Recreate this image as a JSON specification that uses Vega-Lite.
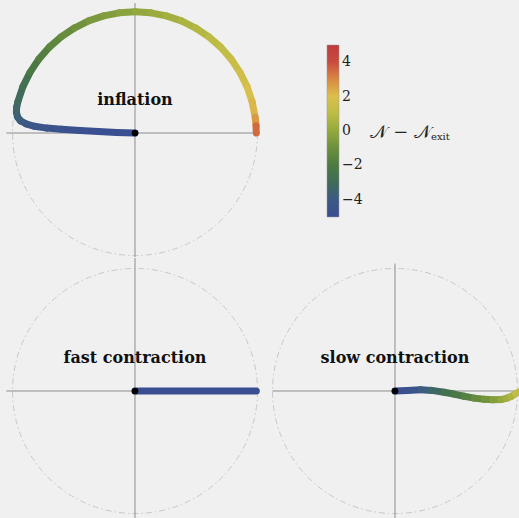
{
  "$schema": "https://vega.github.io/schema/vega-lite/v6.json",
  "background": "#f0f0f0",
  "padding": 0,
  "spacing": 0,
  "config": {
    "view": {"stroke": null},
    "axis": {"disable": true},
    "concat": {"spacing": 0},
    "text": {"font": "DejaVu Serif"}
  },
  "datasets": {
    "inflation": [
      {"i": 0, "x": 0.0, "y": 0.0, "n": -5.0},
      {"i": 1, "x": -0.15, "y": 0.005, "n": -4.95},
      {"i": 2, "x": -0.3, "y": 0.012, "n": -4.85},
      {"i": 3, "x": -0.45, "y": 0.02, "n": -4.75},
      {"i": 4, "x": -0.6, "y": 0.03, "n": -4.6},
      {"i": 5, "x": -0.72, "y": 0.04, "n": -4.45},
      {"i": 6, "x": -0.82, "y": 0.055, "n": -4.3},
      {"i": 7, "x": -0.89, "y": 0.075, "n": -4.1},
      {"i": 8, "x": -0.935, "y": 0.1, "n": -3.9},
      {"i": 9, "x": -0.958, "y": 0.13, "n": -3.7},
      {"i": 10, "x": -0.968, "y": 0.17, "n": -3.45},
      {"i": 11, "x": -0.966, "y": 0.21, "n": -3.25},
      {"i": 12, "x": -0.956, "y": 0.256, "n": -3.05},
      {"i": 13, "x": -0.915, "y": 0.379, "n": -2.6},
      {"i": 14, "x": -0.857, "y": 0.495, "n": -2.1},
      {"i": 15, "x": -0.785, "y": 0.603, "n": -1.75},
      {"i": 16, "x": -0.7, "y": 0.7, "n": -1.45},
      {"i": 17, "x": -0.603, "y": 0.785, "n": -1.15},
      {"i": 18, "x": -0.495, "y": 0.857, "n": -0.9},
      {"i": 19, "x": -0.379, "y": 0.915, "n": -0.65},
      {"i": 20, "x": -0.256, "y": 0.956, "n": -0.45},
      {"i": 21, "x": -0.129, "y": 0.981, "n": -0.22},
      {"i": 22, "x": 0.0, "y": 0.99, "n": 0.0},
      {"i": 23, "x": 0.129, "y": 0.981, "n": 0.2},
      {"i": 24, "x": 0.256, "y": 0.956, "n": 0.4},
      {"i": 25, "x": 0.379, "y": 0.915, "n": 0.6},
      {"i": 26, "x": 0.495, "y": 0.857, "n": 0.8},
      {"i": 27, "x": 0.603, "y": 0.785, "n": 1.0},
      {"i": 28, "x": 0.7, "y": 0.7, "n": 1.2},
      {"i": 29, "x": 0.785, "y": 0.603, "n": 1.4},
      {"i": 30, "x": 0.857, "y": 0.495, "n": 1.6},
      {"i": 31, "x": 0.915, "y": 0.379, "n": 1.85},
      {"i": 32, "x": 0.956, "y": 0.256, "n": 2.15},
      {"i": 33, "x": 0.981, "y": 0.129, "n": 2.7},
      {"i": 34, "x": 0.988, "y": 0.06, "n": 3.5},
      {"i": 35, "x": 0.99, "y": 0.0, "n": 4.6}
    ],
    "fast": [
      {"i": 0, "x": 0.0, "y": 0.0, "n": -5.0},
      {"i": 1, "x": 0.99, "y": 0.0, "n": -4.9}
    ],
    "slow": [
      {"i": 0, "x": 0.0, "y": 0.0, "n": -5.0},
      {"i": 1, "x": 0.1, "y": 0.005, "n": -4.6},
      {"i": 2, "x": 0.209, "y": 0.01, "n": -3.9},
      {"i": 3, "x": 0.3, "y": 0.005, "n": -3.2},
      {"i": 4, "x": 0.4, "y": -0.01, "n": -2.6},
      {"i": 5, "x": 0.48, "y": -0.025, "n": -2.15},
      {"i": 6, "x": 0.564, "y": -0.043, "n": -1.65},
      {"i": 7, "x": 0.646, "y": -0.058, "n": -1.2},
      {"i": 8, "x": 0.728, "y": -0.068, "n": -0.8},
      {"i": 9, "x": 0.8, "y": -0.072, "n": -0.35},
      {"i": 10, "x": 0.865, "y": -0.07, "n": 0.05},
      {"i": 11, "x": 0.91, "y": -0.06, "n": 0.35},
      {"i": 12, "x": 0.947, "y": -0.045, "n": 0.65},
      {"i": 13, "x": 0.985, "y": -0.022, "n": 1.2},
      {"i": 14, "x": 1.015, "y": -0.004, "n": 1.8}
    ]
  },
  "vconcat": [
    {
      "width": 260,
      "height": 257,
      "layer": [
        {
          "data": {"values": [{}]},
          "mark": {"type": "point", "shape": "circle", "size": 60025, "filled": false, "stroke": "#a9a9a9", "strokeWidth": 0.8, "strokeDash": [6, 3, 1.5, 3]},
          "encoding": {
            "x": {"datum": 0, "type": "quantitative", "scale": {"domain": [-1.102, 1.0204], "nice": false, "zero": false}},
            "y": {"datum": 0, "type": "quantitative", "scale": {"domain": [-1.0122, 1.0857], "nice": false, "zero": false}}
          }
        },
        {
          "data": {"values": [{}]},
          "mark": {"type": "rule", "color": "#8c8c8c", "strokeWidth": 1, "clip": true},
          "encoding": {"x": {"datum": -1.05}, "x2": {"datum": 1.05}, "y": {"datum": 0}}
        },
        {
          "data": {"values": [{}]},
          "mark": {"type": "rule", "color": "#8c8c8c", "strokeWidth": 1, "clip": true},
          "encoding": {"x": {"datum": 0}, "y": {"datum": -1.06}, "y2": {"datum": 1.06}}
        },
        {
          "data": {"name": "inflation"},
          "transform": [
            {"window": [{"op": "lead", "field": "x", "as": "xe"}, {"op": "lead", "field": "y", "as": "ye"}], "sort": [{"field": "i", "order": "ascending"}]},
            {"filter": "isValid(datum.xe)"}
          ],
          "mark": {"type": "rule", "strokeWidth": 7, "strokeCap": "round", "clip": true},
          "encoding": {
            "x": {"field": "x", "type": "quantitative"},
            "y": {"field": "y", "type": "quantitative"},
            "x2": {"field": "xe"},
            "y2": {"field": "ye"},
            "color": {
              "field": "n", "type": "quantitative",
              "scale": {
                "domain": [-5, -4, -3, -2, -1, 0, 1, 2, 3, 4, 5],
                "range": ["#3a4e92", "#3c5a84", "#3f6b5a", "#4c7a42", "#6c8f3c", "#93a83e", "#bcbc44", "#dcbf4c", "#d88a42", "#c94c3c", "#bf3a3c"],
                "interpolate": "rgb"
              },
              "legend": {
                "orient": "none", "legendX": 327, "legendY": 45,
                "direction": "vertical",
                "gradientLength": 172, "gradientThickness": 12,
                "gradientStrokeColor": "#999999", "gradientStrokeWidth": 0.5,
                "values": [-4, -2, 0, 2, 4],
                "labelFont": "DejaVu Serif", "labelFontSize": 14, "labelColor": "#222222", "labelOffset": 3,
                "title": null
              }
            }
          }
        },
        {
          "data": {"values": [{}]},
          "mark": {"type": "point", "shape": "circle", "size": 45, "filled": true, "color": "#000000", "opacity": 1},
          "encoding": {"x": {"datum": 0}, "y": {"datum": 0}}
        },
        {
          "data": {"values": [{}]},
          "mark": {"type": "text", "text": "inflation", "fontSize": 16, "fontWeight": "bold", "color": "#111111", "baseline": "middle"},
          "encoding": {"x": {"datum": 0}, "y": {"datum": 0.27}}
        },
        {
          "data": {"values": [{}]},
          "mark": {"type": "text", "text": "𝒩 − 𝒩", "fontSize": 18, "color": "#222222", "align": "right", "baseline": "middle"},
          "encoding": {"x": {"datum": 2.416}, "y": {"datum": 0}}
        },
        {
          "data": {"values": [{}]},
          "mark": {"type": "text", "text": "exit", "fontSize": 10, "color": "#222222", "align": "left", "baseline": "middle", "dy": 4},
          "encoding": {"x": {"datum": 2.416}, "y": {"datum": 0}}
        }
      ]
    },
    {
      "spacing": 0,
      "hconcat": [
        {
          "width": 260,
          "height": 261,
          "layer": [
            {
              "data": {"values": [{}]},
              "mark": {"type": "point", "shape": "circle", "size": 60025, "filled": false, "stroke": "#a9a9a9", "strokeWidth": 0.8, "strokeDash": [6, 3, 1.5, 3]},
              "encoding": {
                "x": {"datum": 0, "type": "quantitative", "scale": {"domain": [-1.102, 1.0204], "nice": false, "zero": false}},
                "y": {"datum": 0, "type": "quantitative", "scale": {"domain": [-1.0449, 1.0857], "nice": false, "zero": false}}
              }
            },
            {
              "data": {"values": [{}]},
              "mark": {"type": "rule", "color": "#8c8c8c", "strokeWidth": 1, "clip": true},
              "encoding": {"x": {"datum": -1.05}, "x2": {"datum": 1.05}, "y": {"datum": 0}}
            },
            {
              "data": {"values": [{}]},
              "mark": {"type": "rule", "color": "#8c8c8c", "strokeWidth": 1, "clip": true},
              "encoding": {"x": {"datum": 0}, "y": {"datum": -1.06}, "y2": {"datum": 1.1}}
            },
            {
              "data": {"name": "fast"},
              "transform": [
                {"window": [{"op": "lead", "field": "x", "as": "xe"}, {"op": "lead", "field": "y", "as": "ye"}], "sort": [{"field": "i", "order": "ascending"}]},
                {"filter": "isValid(datum.xe)"}
              ],
              "mark": {"type": "rule", "strokeWidth": 7, "strokeCap": "round", "clip": true},
              "encoding": {
                "x": {"field": "x", "type": "quantitative"},
                "y": {"field": "y", "type": "quantitative"},
                "x2": {"field": "xe"},
                "y2": {"field": "ye"},
                "color": {
                  "field": "n", "type": "quantitative",
                  "scale": {
                    "domain": [-5, -4, -3, -2, -1, 0, 1, 2, 3, 4, 5],
                    "range": ["#3a4e92", "#3c5a84", "#3f6b5a", "#4c7a42", "#6c8f3c", "#93a83e", "#bcbc44", "#dcbf4c", "#d88a42", "#c94c3c", "#bf3a3c"],
                    "interpolate": "rgb"
                  }
                }
              }
            },
            {
              "data": {"values": [{}]},
              "mark": {"type": "point", "shape": "circle", "size": 45, "filled": true, "color": "#000000", "opacity": 1},
              "encoding": {"x": {"datum": 0}, "y": {"datum": 0}}
            },
            {
              "data": {"values": [{}]},
              "mark": {"type": "text", "text": "fast contraction", "fontSize": 16, "fontWeight": "bold", "color": "#111111", "baseline": "middle"},
              "encoding": {"x": {"datum": 0}, "y": {"datum": 0.27}}
            }
          ]
        },
        {
          "width": 260,
          "height": 261,
          "layer": [
            {
              "data": {"values": [{}]},
              "mark": {"type": "point", "shape": "circle", "size": 60025, "filled": false, "stroke": "#a9a9a9", "strokeWidth": 0.8, "strokeDash": [6, 3, 1.5, 3]},
              "encoding": {
                "x": {"datum": 0, "type": "quantitative", "scale": {"domain": [-1.102, 1.0204], "nice": false, "zero": false}},
                "y": {"datum": 0, "type": "quantitative", "scale": {"domain": [-1.0449, 1.0857], "nice": false, "zero": false}}
              }
            },
            {
              "data": {"values": [{}]},
              "mark": {"type": "rule", "color": "#8c8c8c", "strokeWidth": 1, "clip": true},
              "encoding": {"x": {"datum": -1.0}, "x2": {"datum": 1.05}, "y": {"datum": 0}}
            },
            {
              "data": {"values": [{}]},
              "mark": {"type": "rule", "color": "#8c8c8c", "strokeWidth": 1, "clip": true},
              "encoding": {"x": {"datum": 0}, "y": {"datum": -1.06}, "y2": {"datum": 1.04}}
            },
            {
              "data": {"name": "slow"},
              "transform": [
                {"window": [{"op": "lead", "field": "x", "as": "xe"}, {"op": "lead", "field": "y", "as": "ye"}], "sort": [{"field": "i", "order": "ascending"}]},
                {"filter": "isValid(datum.xe)"}
              ],
              "mark": {"type": "rule", "strokeWidth": 7, "strokeCap": "round", "clip": true},
              "encoding": {
                "x": {"field": "x", "type": "quantitative"},
                "y": {"field": "y", "type": "quantitative"},
                "x2": {"field": "xe"},
                "y2": {"field": "ye"},
                "color": {
                  "field": "n", "type": "quantitative",
                  "scale": {
                    "domain": [-5, -4, -3, -2, -1, 0, 1, 2, 3, 4, 5],
                    "range": ["#3a4e92", "#3c5a84", "#3f6b5a", "#4c7a42", "#6c8f3c", "#93a83e", "#bcbc44", "#dcbf4c", "#d88a42", "#c94c3c", "#bf3a3c"],
                    "interpolate": "rgb"
                  }
                }
              }
            },
            {
              "data": {"values": [{}]},
              "mark": {"type": "point", "shape": "circle", "size": 45, "filled": true, "color": "#000000", "opacity": 1},
              "encoding": {"x": {"datum": 0}, "y": {"datum": 0}}
            },
            {
              "data": {"values": [{}]},
              "mark": {"type": "text", "text": "slow contraction", "fontSize": 16, "fontWeight": "bold", "color": "#111111", "baseline": "middle"},
              "encoding": {"x": {"datum": 0}, "y": {"datum": 0.27}}
            }
          ]
        }
      ]
    }
  ]
}
